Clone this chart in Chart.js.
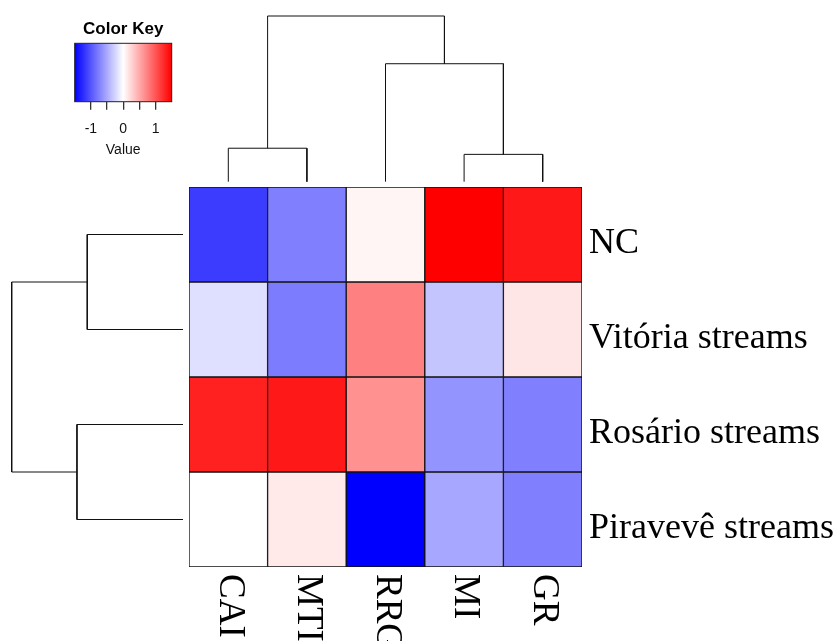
<!DOCTYPE html>
<html>
<head>
<meta charset="utf-8">
<script src="https://cdn.jsdelivr.net/npm/chart.js@4.4.1/dist/chart.umd.min.js"></script>
<style>
  html, body { margin: 0; padding: 0; background: #fff; }
  #wrap { position: relative; width: 838px; height: 641px; overflow: hidden; }
  #wrap canvas { position: absolute; left: 0; top: 0; }
</style>
</head>
<body>
<div id="wrap">
  <canvas id="heat" width="838" height="641"></canvas>
  <canvas id="colTree" width="838" height="641"></canvas>
  <canvas id="rowTree" width="838" height="641"></canvas>
  <canvas id="key" width="838" height="641"></canvas>
</div>
<script>
// heatmap data (display order)
const columns = ["CAI", "MTI", "RRG", "MI", "GR"];
const rows = ["NC", "Vitória streams", "Rosário streams", "Piravevê streams"];
const ncValues = [-1.15, -0.75, 0.06, 1.5, 1.36];
const vitoriaValues = [-0.19, -0.77, 0.75, -0.35, 0.15];
const rosarioValues = [1.31, 1.36, 0.65, -0.63, -0.75];
const piraveveValues = [0.0, 0.13, -1.5, -0.52, -0.75];
const rowValues = [ncValues, vitoriaValues, rosarioValues, piraveveValues];

// dendrograms, hclust style: negative = leaf (1-based), positive = earlier merge
const colMerge = [[-1, -2], [-4, -5], [-3, 2], [1, 3]];
const colHeights = [2.02, 1.65, 7.12, 10];
const rowMerge = [[-1, -2], [-3, -4], [1, 2]];
const rowHeights = [5.59, 6.19, 10];

// colour key
const keyMin = -1.5;
const keyMax = 1.5;
const keyTicks = [-1, -0.5, 0, 0.5, 1];

const serif = "'Liberation Serif', 'Times New Roman', serif";
const sans = "'Liberation Sans', Arial, sans-serif";

function colorFor(v) {
  const t = Math.max(-1, Math.min(1, v / keyMax));
  if (t < 0) {
    const c = Math.round(255 * (1 + t));
    return "rgb(" + c + "," + c + ",255)";
  }
  const c = Math.round(255 * (1 - t));
  return "rgb(255," + c + "," + c + ")";
}

function treeSegments(merge, heights) {
  const nodes = [];
  const segs = [];
  merge.forEach(function (pair, k) {
    const kids = pair.map(function (n) {
      return n < 0 ? { c: -n - 1, h: 0 } : nodes[n - 1];
    });
    const h = heights[k];
    segs.push([
      { c: kids[0].c, h: kids[0].h },
      { c: kids[0].c, h: h },
      { c: kids[1].c, h: h },
      { c: kids[1].c, h: kids[1].h },
    ]);
    nodes.push({ c: (kids[0].c + kids[1].c) / 2, h: h });
  });
  return segs;
}

const heatLeft = 189, heatRight = 582, heatTop = 187, heatBottom = 567;

// heatmap
const labelPlugin = {
  id: "labels",
  afterDraw(chart) {
    const ctx = chart.ctx;
    const xs = chart.scales.x, ys = chart.scales.y;
    ctx.save();
    ctx.fillStyle = "#000";
    ctx.font = "36px " + serif;
    ctx.textAlign = "left";
    ctx.textBaseline = "alphabetic";
    rows.forEach(function (r, i) {
      ctx.fillText(r, chart.chartArea.right + 7, ys.getPixelForValue(i + 0.5) + 18);
    });
    ctx.font = "37px " + serif;
    ctx.textBaseline = "middle";
    columns.forEach(function (c, j) {
      ctx.save();
      ctx.translate(xs.getPixelForValue(j) + 1, chart.chartArea.bottom + 7);
      ctx.rotate(Math.PI / 2);
      ctx.fillText(c, 0, 0);
      ctx.restore();
    });
    ctx.restore();
  },
};

new Chart(document.getElementById("heat"), {
  type: "bar",
  data: {
    labels: columns,
    datasets: rows.map(function (r, i) {
      return {
        label: r,
        data: columns.map(function () { return [i, i + 1]; }),
        backgroundColor: rowValues[i].map(colorFor),
        borderColor: "#111",
        borderWidth: 1,
        borderSkipped: false,
        grouped: false,
        barPercentage: 1,
        categoryPercentage: 1,
      };
    }),
  },
  options: {
    responsive: false,
    animation: false,
    events: [],
    layout: { padding: { left: heatLeft, right: 838 - heatRight, top: heatTop, bottom: 641 - heatBottom } },
    plugins: { legend: { display: false }, tooltip: { enabled: false } },
    scales: {
      x: { type: "category", display: false },
      y: { type: "linear", min: 0, max: rows.length, reverse: true, display: false },
    },
  },
  plugins: [labelPlugin],
});

// column dendrogram (top)
new Chart(document.getElementById("colTree"), {
  type: "scatter",
  data: {
    datasets: treeSegments(colMerge, colHeights).map(function (s) {
      return {
        data: s.map(function (p) { return { x: p.c, y: p.h }; }),
        showLine: true,
        borderColor: "#111",
        borderWidth: 1,
        pointRadius: 0,
        clip: false,
      };
    }),
  },
  options: {
    responsive: false,
    animation: false,
    events: [],
    layout: { padding: { left: heatLeft, right: 838 - heatRight, top: 16, bottom: 641 - 181.7 } },
    plugins: { legend: { display: false }, tooltip: { enabled: false } },
    scales: {
      x: { type: "linear", min: -0.5, max: columns.length - 0.5, display: false },
      y: { type: "linear", min: 0, max: 10, display: false },
    },
  },
});

// row dendrogram (left)
new Chart(document.getElementById("rowTree"), {
  type: "scatter",
  data: {
    datasets: treeSegments(rowMerge, rowHeights).map(function (s) {
      return {
        data: s.map(function (p) { return { x: p.h, y: p.c }; }),
        showLine: true,
        borderColor: "#111",
        borderWidth: 1,
        pointRadius: 0,
        clip: false,
      };
    }),
  },
  options: {
    responsive: false,
    animation: false,
    events: [],
    layout: { padding: { left: 11.7, right: 838 - 183, top: heatTop, bottom: 641 - heatBottom } },
    plugins: { legend: { display: false }, tooltip: { enabled: false } },
    scales: {
      x: { type: "linear", min: 0, max: 10, reverse: true, display: false },
      y: { type: "linear", min: -0.5, max: rows.length - 0.5, reverse: true, display: false },
    },
  },
});

// colour key
const keyPlugin = {
  id: "keyBox",
  beforeDatasetsDraw(chart) {
    const ctx = chart.ctx;
    const a = chart.chartArea;
    const xs = chart.scales.x;
    const g = ctx.createLinearGradient(a.left, 0, a.right, 0);
    g.addColorStop(0, colorFor(keyMin));
    g.addColorStop((0 - keyMin) / (keyMax - keyMin), colorFor(0));
    g.addColorStop(1, colorFor(keyMax));
    ctx.save();
    ctx.fillStyle = g;
    ctx.fillRect(a.left, a.top, a.right - a.left, a.bottom - a.top);
    ctx.strokeStyle = "#222";
    ctx.lineWidth = 1;
    ctx.strokeRect(a.left, a.top, a.right - a.left, a.bottom - a.top);
    ctx.fillStyle = "#000";
    ctx.font = "bold 17px " + sans;
    ctx.textAlign = "center";
    ctx.textBaseline = "alphabetic";
    ctx.fillText("Color Key", xs.getPixelForValue(0), 34);
    ctx.restore();
  },
};

new Chart(document.getElementById("key"), {
  type: "scatter",
  data: { datasets: [{ data: [] }] },
  options: {
    responsive: false,
    animation: false,
    events: [],
    layout: { padding: { left: 74.7, right: 838 - 171.7, top: 43.3, bottom: 641 - 101.7 - 57 } },
    plugins: { legend: { display: false }, tooltip: { enabled: false } },
    scales: {
      x: {
        type: "linear",
        min: keyMin,
        max: keyMax,
        afterBuildTicks(scale) {
          scale.ticks = keyTicks.map(function (v) { return { value: v }; });
        },
        afterFit(scale) { scale.height = 57; },
        grid: { drawOnChartArea: false, drawTicks: true, tickLength: 8, color: "#333", lineWidth: 1.3 },
        border: { display: false },
        ticks: {
          padding: 11,
          color: "#111",
          font: { family: sans, size: 14 },
          callback: function (v) { return Number.isInteger(v) ? String(v) : ""; },
        },
        title: { display: true, text: "Value", color: "#111", font: { family: sans, size: 14 }, padding: 0 },
      },
      y: { type: "linear", min: 0, max: 1, display: false },
    },
  },
  plugins: [keyPlugin],
});
</script>
</body>
</html>
